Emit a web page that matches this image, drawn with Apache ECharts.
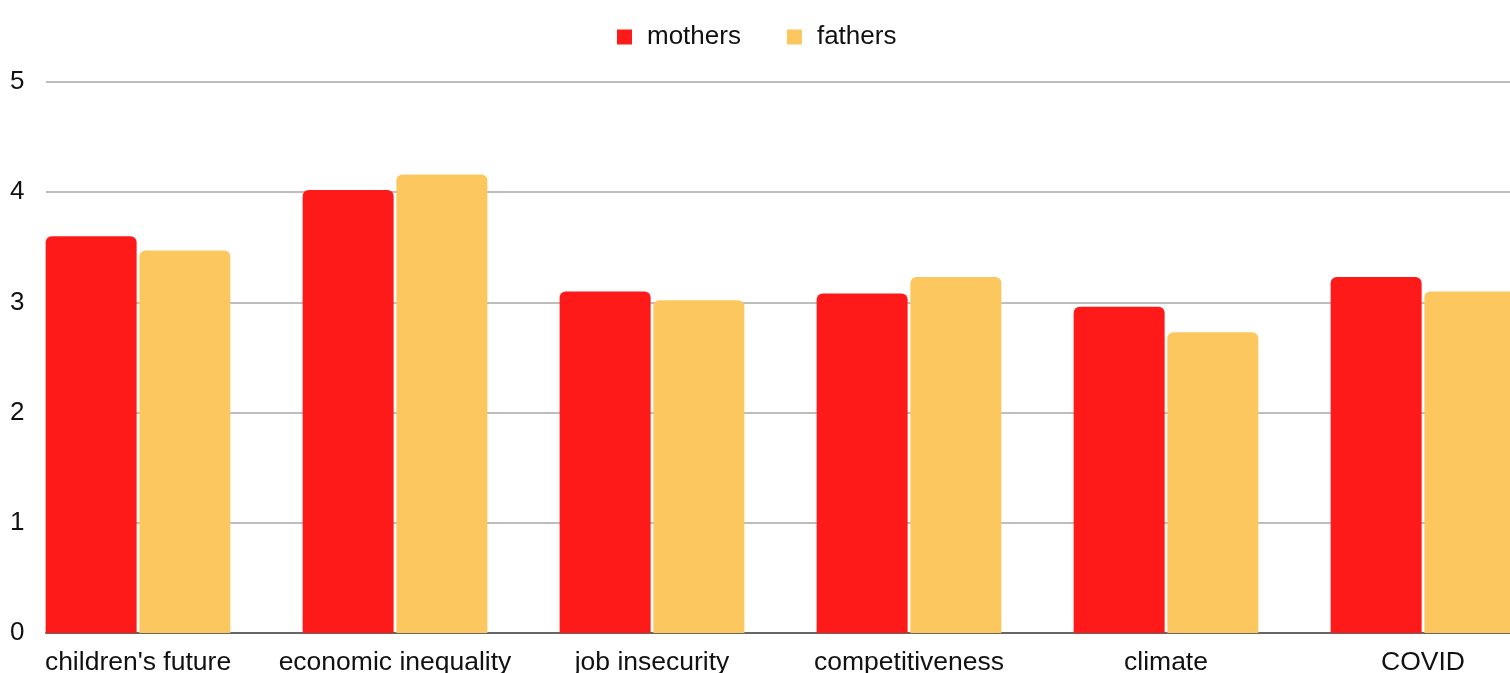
<!DOCTYPE html>
<html>
<head>
<meta charset="utf-8">
<script src="https://cdn.jsdelivr.net/npm/echarts@6/dist/echarts.min.js"></script>
<style>
    html, body { margin: 0; padding: 0; background: #fff; }
    #main { width: 1510px; height: 673px; }
</style>
</head>
<body>
<div id="main"></div>
<script>
    // data
    var categories = ["children's future", 'economic inequality', 'job insecurity', 'competitiveness', 'climate', 'COVID'];
    var mothers = [3.60, 4.02, 3.10, 3.08, 2.96, 3.23];
    var fathers = [3.47, 4.16, 3.02, 3.23, 2.73, 3.10];
    var yTicks = [0, 1, 2, 3, 4, 5];

    var font = "'Liberation Sans', Arial, sans-serif";
    var myChart = echarts.init(document.getElementById('main'));
    myChart.setOption({
        animation: false,
        textStyle: { fontFamily: font },
        legend: {
            left: 612,
            top: 19,
            itemWidth: 15,
            itemHeight: 15,
            itemGap: 46,
            icon: 'rect',
            textStyle: { fontFamily: font, fontSize: 26, color: '#111', padding: [0, 0, 0, 10] },
            data: ['mothers', 'fathers']
        },
        grid: [
            // frame grid: gridlines + y labels
            { left: 46, right: 0, top: 82, bottom: 40, outerBoundsMode: 'none' },
            // bar grid: runs past the right edge like the source
            { left: 9.5, width: 1542, top: 82, bottom: 40, outerBoundsMode: 'none' }
        ],
        xAxis: [
            {
                type: 'category', gridIndex: 0, data: categories,
                axisLine: { lineStyle: { color: '#666', width: 2 } },
                axisTick: { show: false },
                axisLabel: { show: false }
            },
            {
                type: 'category', gridIndex: 1, data: categories,
                axisLine: { show: false },
                axisTick: { show: false },
                axisLabel: { fontFamily: font, fontSize: 26.5, color: '#111', margin: 16, interval: 0 }
            }
        ],
        yAxis: [
            {
                type: 'value', gridIndex: 0, min: yTicks[0], max: yTicks[yTicks.length - 1], interval: 1,
                axisLine: { show: false },
                axisTick: { show: false },
                axisLabel: { fontFamily: font, fontSize: 26, color: '#111', align: 'left', margin: 36, padding: [4, 0, 0, 0] },
                splitLine: { lineStyle: { color: '#bdbdbd', width: 2 } }
            },
            {
                type: 'value', gridIndex: 1, min: 0, max: 5, interval: 1,
                show: false,
                splitLine: { show: false }
            }
        ],
        series: [
            {
                name: 'mothers',
                type: 'bar',
                xAxisIndex: 1,
                yAxisIndex: 1,
                data: mothers,
                barWidth: 91,
                barGap: '3%',
                itemStyle: { color: '#ff1a1a', borderRadius: [6, 6, 0, 0] }
            },
            {
                name: 'fathers',
                type: 'bar',
                xAxisIndex: 1,
                yAxisIndex: 1,
                data: fathers,
                barWidth: 91,
                barGap: '3%',
                itemStyle: { color: '#fdc75f', borderRadius: [6, 6, 0, 0] }
            }
        ]
    });
</script>
</body>
</html>
